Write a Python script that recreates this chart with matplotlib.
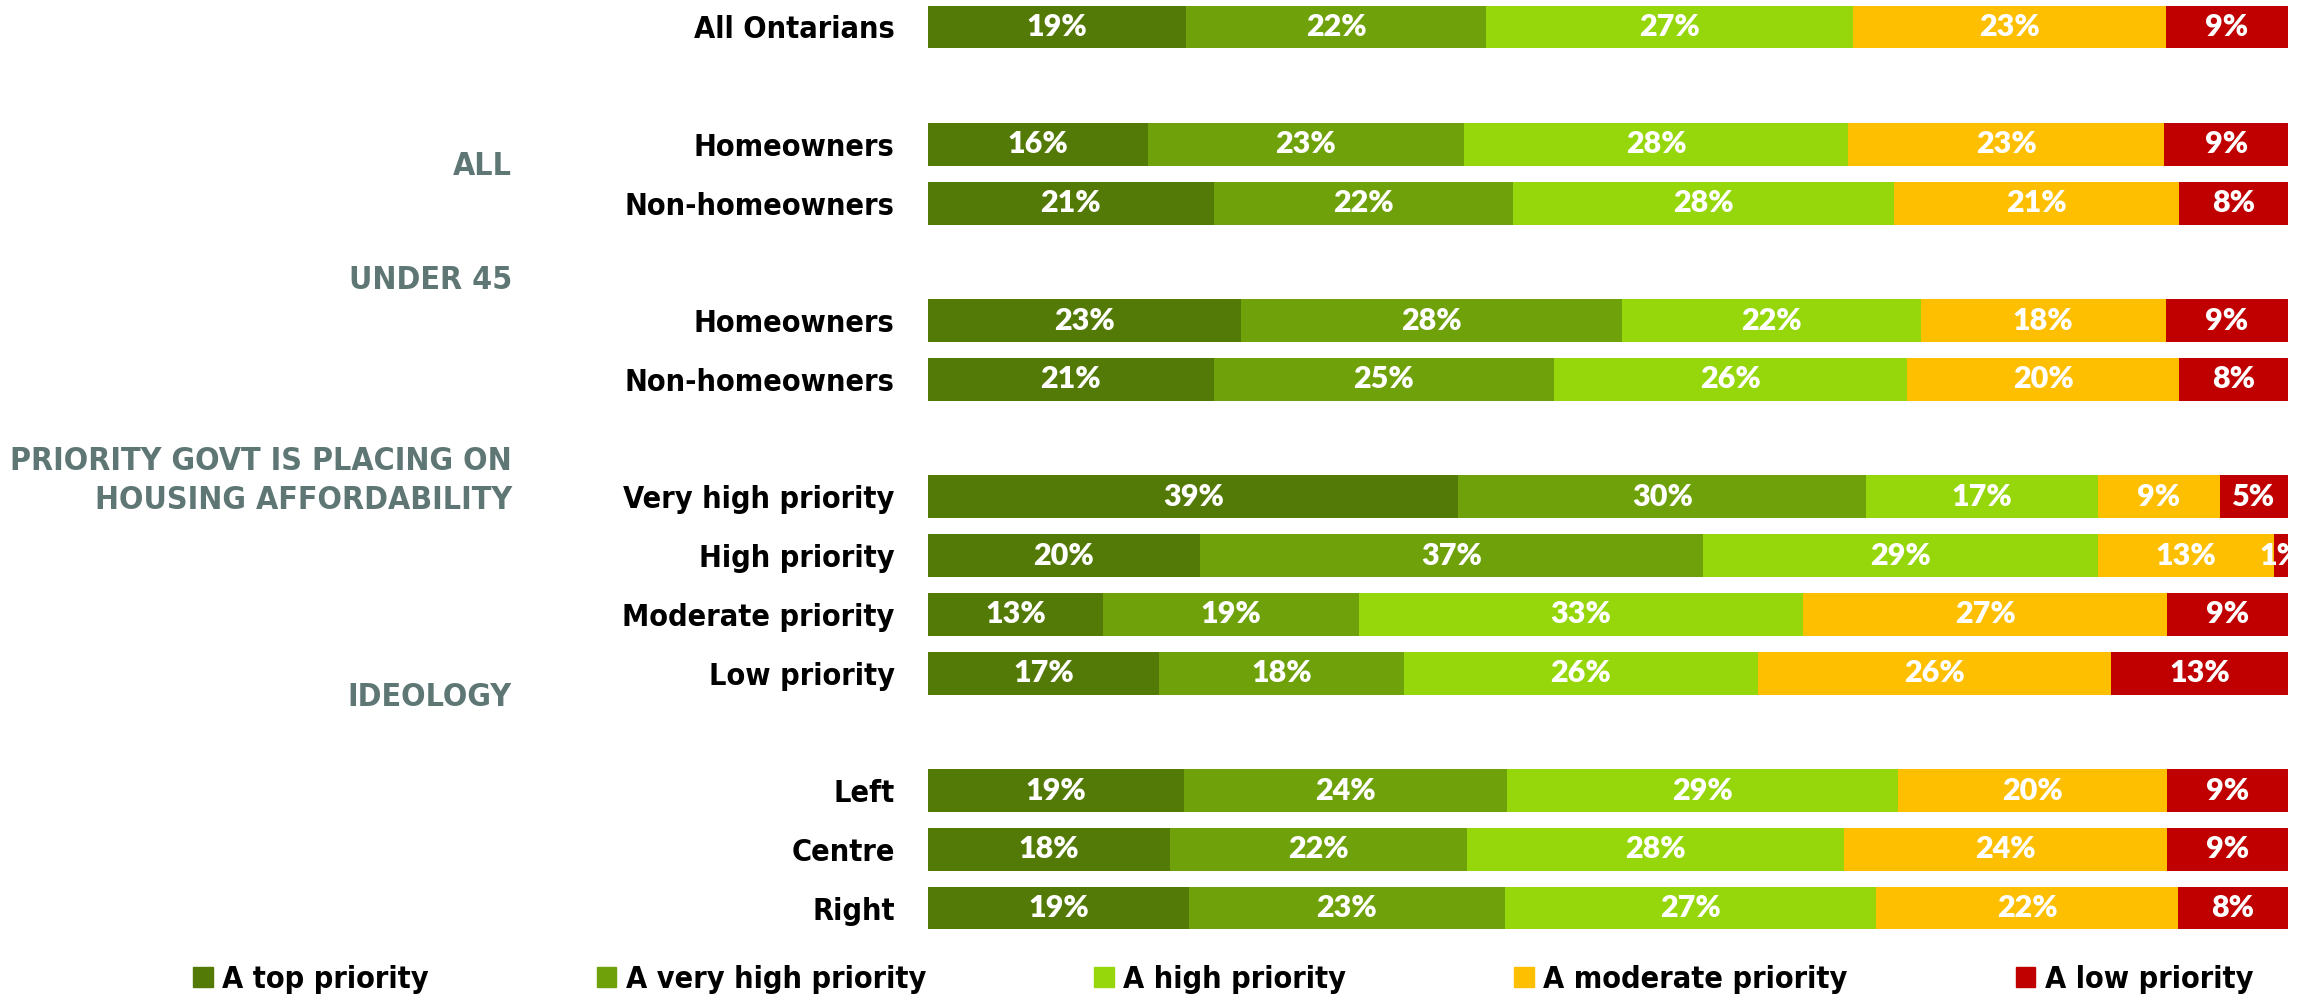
import numpy as np
import matplotlib
matplotlib.use('Agg')
import matplotlib.pyplot as plt
from matplotlib.patches import Patch
from matplotlib.transforms import blended_transform_factory
from matplotlib import font_manager

#==============================================================================
#                  Data
#==============================================================================
rows = ['All Ontarians', 'Homeowners', 'Non-homeowners', 'Homeowners',
        'Non-homeowners', 'Very high priority', 'High priority',
        'Moderate priority', 'Low priority', 'Left', 'Centre', 'Right']
slots = [0, 2, 3, 5, 6, 8, 9, 10, 11, 13, 14, 15]

series = ['A top priority', 'A very high priority', 'A high priority',
          'A moderate priority', 'A low priority']
top_priority = [19, 16, 21, 23, 21, 39, 20, 13, 17, 19, 18, 19]
very_high = [22, 23, 22, 28, 25, 30, 37, 19, 18, 24, 22, 23]
high = [27, 28, 28, 22, 26, 17, 29, 33, 26, 29, 28, 27]
moderate = [23, 23, 21, 18, 20, 9, 13, 27, 26, 20, 24, 22]
low = [9, 9, 8, 9, 8, 5, 1, 9, 13, 9, 9, 8]

groups = ['ALL', 'UNDER 45', 'PRIORITY GOVT IS PLACING ON\nHOUSING AFFORDABILITY',
          'IDEOLOGY']
group_y = [2.37, 4.32, 7.73, 11.41]

colors = ['#537a06', '#6fa10b', '#96d70b', '#fdbf00', '#c00000']

#==============================================================================
cond = font_manager.FontProperties(family='DejaVu Sans', weight='bold',
                                   stretch='condensed', size=22)
cond_grp = font_manager.FontProperties(family='DejaVu Sans', weight='bold',
                                       stretch='condensed', size=23)
num_font = ['Lato', 'DejaVu Sans']

fig = plt.figure(figsize=(23.05, 9.98), dpi=100)
ax = fig.add_axes([928 / 2305, 1 - 931.5 / 998, (2288 - 928) / 2305, 928 / 998])

vals = np.array([top_priority, very_high, high, moderate, low], dtype=float)
fracs = vals / vals.sum(axis=0)
left = np.zeros(len(rows))
for i in range(len(series)):
    ax.barh(slots, fracs[i], left=left, height=0.73, color=colors[i],
            label=series[i])
    for y, l, w, v in zip(slots, left, fracs[i], vals[i]):
        ax.text(l + w / 2, y, '%d%%' % v, ha='center', va='center',
                color='white', fontsize=22, fontweight='heavy',
                family=num_font, clip_on=True)
    left += fracs[i]

ax.set_xlim(0, 1)
ax.set_ylim(15.4, -0.4)
ax.set_yticks(slots)
ax.set_yticklabels(rows, fontproperties=cond)
ax.tick_params(axis='y', length=0, pad=24)
ax.set_xticks([])
for s in ax.spines.values():
    s.set_visible(False)

trans = blended_transform_factory(fig.transFigure, ax.transData)
for g, y in zip(groups, group_y):
    ax.text(512 / 2305, y, g, transform=trans, ha='right', va='center',
            fontproperties=cond_grp, color='#5f7774', linespacing=1.3)

handles = [Patch(color=c) for c in colors]
fig.legend(handles, series, loc='center', bbox_to_anchor=(0.5306, 0.019),
           ncol=5, frameon=False, prop=cond,
           handlelength=0.65, handleheight=0.65, handletextpad=0.3,
           columnspacing=5.5)

plt.savefig('out.png', dpi=100)
